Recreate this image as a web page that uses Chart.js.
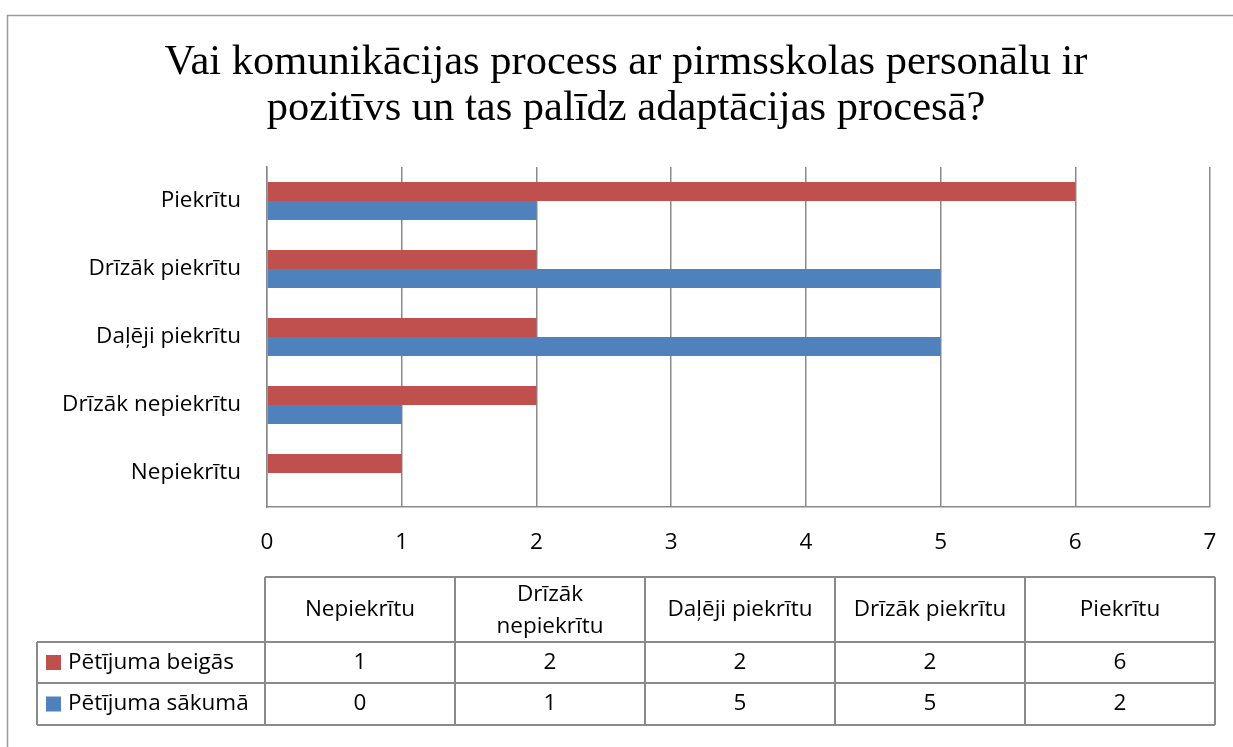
<!DOCTYPE html>
<html>
<head>
<meta charset="utf-8">
<script src="https://cdn.jsdelivr.net/npm/chart.js@4.4.1/dist/chart.umd.min.js"></script>
<style>
  body { margin: 0; background: #fff; }
  #wrap { width: 1233px; height: 747px; }
</style>
</head>
<body>
<div id="wrap"><canvas id="barCanvas" width="1233" height="747"></canvas></div>
<script>
// data
const titleLines = ["Vai komunikācijas process ar pirmsskolas personālu ir", "pozitīvs un tas palīdz adaptācijas procesā?"];
const categories = ["Piekrītu", "Drīzāk piekrītu", "Daļēji piekrītu", "Drīzāk nepiekrītu", "Nepiekrītu"];
const seriesNames = ["Pētījuma beigās", "Pētījuma sākumā"];
const beigas = [6, 2, 2, 2, 1];
const sakuma = [2, 5, 5, 1, 0];
const seriesColors = ["#C0504D", "#4F81BD"];
const xMax = 7;

const gridGray = "#8a8a8a";
const fontFamily = "'Open Sans'";
const fontSize = 22.5;

// outer frame, title and the data table under the axis
const extras = {
    id: "extras",
    beforeDraw(chart) {
        const ctx = chart.ctx;
        ctx.save();
        ctx.fillStyle = "#fff";
        ctx.fillRect(0, 0, chart.width, chart.height);
        ctx.strokeStyle = "#9a9a9a";
        ctx.lineWidth = 1.5;
        ctx.strokeRect(7.5, 15.5, chart.width + 50, chart.height + 50);
        ctx.restore();
    },
    afterDraw(chart) {
        const ctx = chart.ctx;
        const area = chart.chartArea;
        ctx.save();

        // title
        ctx.fillStyle = "#000";
        ctx.font = "42.5px 'Liberation Serif'";
        ctx.textAlign = "center";
        ctx.textBaseline = "alphabetic";
        titleLines.forEach((t, i) => ctx.fillText(t, 626, 74 + i * 46));

        // table
        const cols = categories.slice().reverse();
        const rows = [beigas.slice().reverse(), sakuma.slice().reverse()];
        const left = area.left - 2, right = area.right + 5;
        const colW = (right - left) / cols.length;
        const legendLeft = 37;
        const axisBottom = chart.scales.x.bottom;
        const headTop = axisBottom + 20, headBot = headTop + 65;
        const rowBots = [headBot + 41, headBot + 83];

        ctx.strokeStyle = gridGray;
        ctx.lineWidth = 2;
        ctx.beginPath();
        ctx.moveTo(left, headTop); ctx.lineTo(right, headTop);
        ctx.moveTo(legendLeft, headBot); ctx.lineTo(right, headBot);
        rowBots.forEach(y => { ctx.moveTo(legendLeft, y); ctx.lineTo(right, y); });
        ctx.moveTo(legendLeft, headBot); ctx.lineTo(legendLeft, rowBots[1]);
        for (let i = 0; i <= cols.length; i++) {
            const x = left + i * colW;
            ctx.moveTo(x, headTop); ctx.lineTo(x, rowBots[1]);
        }
        ctx.stroke();

        ctx.fillStyle = "#000";
        ctx.font = fontSize + "px " + fontFamily;
        ctx.textAlign = "center";
        ctx.textBaseline = "middle";
        cols.forEach((c, i) => {
            const cx = left + (i + 0.5) * colW;
            const cy = (headTop + headBot) / 2;
            if (ctx.measureText(c).width > colW - 16) {
                const parts = c.split(" ");
                ctx.fillText(parts[0], cx, cy - 15);
                ctx.fillText(parts.slice(1).join(" "), cx, cy + 17);
            } else {
                ctx.fillText(c, cx, cy);
            }
            rows.forEach((r, j) => {
                const top = j === 0 ? headBot : rowBots[0];
                ctx.fillText(String(r[i]), cx, (top + rowBots[j]) / 2);
            });
        });

        // legend keys in the first column
        ctx.textAlign = "left";
        seriesNames.forEach((n, j) => {
            const top = j === 0 ? headBot : rowBots[0];
            const cy = (top + rowBots[j]) / 2;
            ctx.fillStyle = seriesColors[j];
            ctx.fillRect(46, cy - 7.5, 15, 15);
            ctx.fillStyle = "#000";
            ctx.fillText(n, 68, cy);
        });
        ctx.restore();
    }
};

const barCanvas = document.getElementById("barCanvas");
const barChart = new Chart(barCanvas, {
    type: "bar",
    data: {
        labels: categories,
        datasets: [
            { label: seriesNames[0], data: beigas, backgroundColor: seriesColors[0] },
            { label: seriesNames[1], data: sakuma, backgroundColor: seriesColors[1] }
        ]
    },
    options: {
        indexAxis: "y",
        responsive: false,
        animation: false,
        datasets: { bar: { categoryPercentage: 0.56, barPercentage: 1 } },
        layout: { padding: { top: 167, right: 23, bottom: 190, left: 0 } },
        plugins: { legend: { display: false }, title: { display: false }, tooltip: { enabled: false } },
        scales: {
            x: {
                min: 0, max: xMax,
                ticks: { stepSize: 1, color: "#000", font: { family: fontFamily, size: fontSize }, padding: 22 },
                grid: { color: gridGray, lineWidth: 1.5, drawTicks: false },
                border: { color: gridGray, width: 1.5 },
                afterFit(scale) {
                    scale.height = 50;
                    // tick padding is otherwise added to the side padding
                    scale.paddingLeft = 0;
                    scale.paddingRight = 0;
                }
            },
            y: {
                ticks: { color: "#000", font: { family: fontFamily, size: fontSize }, padding: 26 },
                grid: { display: false, drawTicks: false },
                border: { color: gridGray, width: 1.5 },
                afterFit(scale) { scale.width = 267; }
            }
        }
    },
    plugins: [extras]
});
</script>
</body>
</html>
